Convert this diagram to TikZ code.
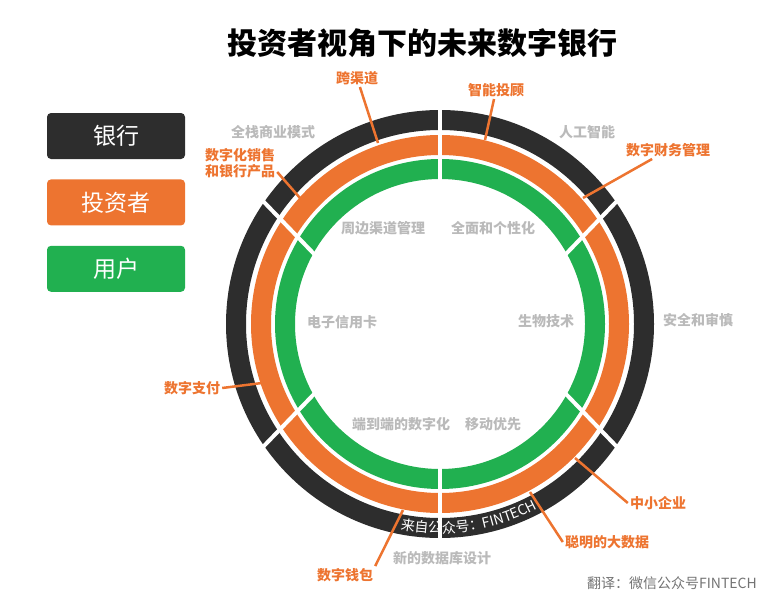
\documentclass[tikz,border=0pt]{standalone}
\usepackage{fontspec}
\setmainfont{Noto Sans CJK SC}
\usepackage{tikz}
\usetikzlibrary{positioning,calc,decorations.text}
\definecolor{bankdark}{RGB}{45,45,45}
\definecolor{invorange}{RGB}{237,116,48}
\definecolor{usergreen}{RGB}{33,176,80}
\definecolor{seggray}{RGB}{186,186,186}
\definecolor{notegray}{RGB}{115,115,115}

\begin{document}
\begin{tikzpicture}[x=1pt, y=1pt,
  legend box/.style={rectangle, rounded corners=4pt, minimum width=138pt, minimum height=46pt, text=white, font=\fontsize{23}{23}\selectfont},
  ring/.style={line width=20pt},
  cut/.style={white, line width=4pt},
  seg label/.style={text=seggray, font=\bfseries\fontsize{14}{14}\selectfont},
  lead label/.style={text=invorange, font=\bfseries\fontsize{14}{16}\selectfont, align=left, inner sep=2pt},
  lead/.style={invorange, line width=2.5pt}]
  \useasboundingbox (0,0) rectangle (773,-610);
  \coordinate (c) at (440,-324);

  \node[font=\bfseries\fontsize{30}{30}\selectfont] (title) at (422,-43) {投资者视角下的未来数字银行};

  \node[legend box, fill=bankdark] (bank) at (116,-136) {银行};
  \node[legend box, fill=invorange, below=20pt of bank] (investor) {投资者};
  \node[legend box, fill=usergreen, below=20pt of investor] (user) {用户};

  \draw[ring, bankdark] (c) circle[radius=204];
  \draw[ring, invorange] (c) circle[radius=179];
  \draw[ring, usergreen] (c) circle[radius=155];

  \draw[cut] ($(c)+(0,140)$) -- ($(c)+(0,218)$);
  \draw[cut] ($(c)+(0,-140)$) -- ($(c)+(0,-218)$);
  \foreach \sx/\sy in {1/1, -1/1, 1/-1, -1/-1}
    \draw[cut] ($(c)+(\sx*124,\sy*68)$) -- ($(c)+(\sx*178,\sy*124)$);

  \path[decorate, decoration={text along path, text align=center,
      text={|\color{white}\fontsize{14}{14}\selectfont|来自公众号：FINTECH}}]
    ($(c)+(-107:209)$) arc[start angle=-107, end angle=-56, radius=209];

  \node[seg label] (stack) at (273,-132) {全栈商业模式};
  \node[seg label] (ai) at (587,-132) {人工智能};
  \node[seg label] (safety) at (698,-320) {安全和审慎};
  \node[seg label] (database) at (442,-558) {新的数据库设计};
  \node[seg label] (channel) at (383,-228) {周边渠道管理};
  \node[seg label] (personal) at (493,-228) {全面和个性化};
  \node[seg label] (ecard) at (342,-322) {电子信用卡};
  \node[seg label] (bio) at (546,-321) {生物技术};
  \node[seg label] (endtoend) at (401,-424) {端到端的数字化};
  \node[seg label] (mobile) at (493,-424) {移动优先};

  \node[lead label] (cross) at (357,-78) {跨渠道};
  \node[lead label] (robo) at (496,-90) {智能投顾};
  \node[lead label] (finance) at (668,-150) {数字财务管理};
  \node[lead label] (sales) at (240,-163) {数字化销售\\和银行产品};
  \node[lead label] (payment) at (192,-388) {数字支付};
  \node[lead label] (sme) at (658,-503) {中小企业};
  \node[lead label] (bigdata) at (607,-542) {聪明的大数据};
  \node[lead label] (wallet) at (345,-575) {数字钱包};

  \coordinate (cross end) at (378,-143);
  \coordinate (robo end) at (485,-140);
  \coordinate (finance end) at (583,-198);
  \coordinate (sales end) at (300,-198);
  \coordinate (payment end) at (262,-383);
  \coordinate (sme end) at (575,-458);
  \coordinate (bigdata end) at (530,-492);
  \coordinate (wallet end) at (403,-510);

  \draw[lead] (cross) -- (cross end);
  \draw[lead] (robo) -- (robo end);
  \draw[lead] (finance) -- (finance end);
  \draw[lead] ([yshift=-9pt]sales.east) -- (sales end);
  \draw[lead] (payment.east) -- (payment end);
  \draw[lead] (sme.west) -- (sme end);
  \draw[lead] (bigdata.west) -- (bigdata end);
  \draw[lead] (wallet.north east) -- (wallet end);

  \node[anchor=east, text=notegray, inner sep=1pt, font=\fontsize{14}{14}\selectfont] (credit) at (758,-583) {翻译：微信公众号FINTECH};
\end{tikzpicture}
\end{document}
